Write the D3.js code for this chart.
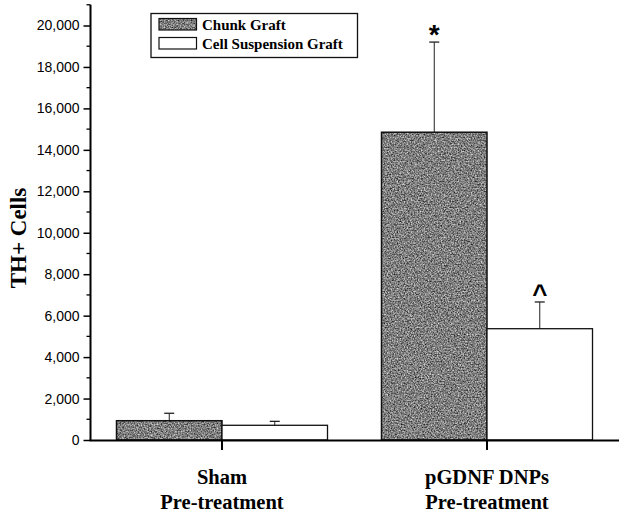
<!DOCTYPE html>
<html><head><meta charset="utf-8">
<script src="https://cdn.jsdelivr.net/npm/d3@7"></script>
<style>body{margin:0;background:#fff}</style>
</head><body>
<script>
const categories = ["Sham|Pre-treatment", "pGDNF DNPs|Pre-treatment"];
const seriesNames = ["Chunk Graft", "Cell Suspension Graft"];
const chunkValues = [930, 14850];
const chunkErrors = [1290, 19200];
const cellValues = [710, 5370];
const cellErrors = [900, 6660];
const chunkMarkers = ["", "*"];
const cellMarkers = ["", "^"];
const yTicks = [0, 2000, 4000, 6000, 8000, 10000, 12000, 14000, 16000, 18000, 20000];

const W = 624, H = 514;
const svg = d3.select("body").append("svg").attr("width", W).attr("height", H);

const defs = svg.append("defs");
const f = defs.append("filter").attr("id", "grain").attr("x", 0).attr("y", 0).attr("width", 1).attr("height", 1)
  .attr("color-interpolation-filters", "sRGB");
f.append("feTurbulence").attr("type", "fractalNoise").attr("baseFrequency", 0.7).attr("numOctaves", 3).attr("seed", 7).attr("result", "n");
f.append("feColorMatrix").attr("in", "n").attr("type", "matrix")
  .attr("values", "1.05 0 0 0 -0.03  1.05 0 0 0 -0.03  1.05 0 0 0 -0.03  0 0 0 0 1").attr("result", "g");
f.append("feComposite").attr("in", "g").attr("in2", "SourceGraphic").attr("operator", "in");

const y = d3.scaleLinear().domain([0, 20000]).range([440, 25.5]);
const xc = d3.scalePoint().domain(categories).range([222, 487]);
const barW = 105.5;

const g = svg.append("g");
const data = categories.map((c, i) => ({c, chunk: chunkValues[i], chunkE: chunkErrors[i], cell: cellValues[i], cellE: cellErrors[i], m1: chunkMarkers[i], m2: cellMarkers[i]}));

// error bars
data.forEach(d => {
  const cx1 = xc(d.c) - barW / 2, cx2 = xc(d.c) + barW / 2;
  [[cx1, d.chunk, d.chunkE], [cx2, d.cell, d.cellE]].forEach(([cx, v, e]) => {
    g.append("line").attr("x1", cx).attr("x2", cx).attr("y1", y(v)).attr("y2", y(e)).attr("stroke", "#222").attr("stroke-width", 1);
    g.append("line").attr("x1", cx - 5).attr("x2", cx + 5).attr("y1", y(e)).attr("y2", y(e)).attr("stroke", "#222").attr("stroke-width", 1.3);
  });
});

data.forEach(d => {
  g.append("rect").attr("x", xc(d.c) - barW).attr("y", y(d.chunk)).attr("width", barW).attr("height", y(0) - y(d.chunk))
    .attr("fill", "#888").attr("filter", "url(#grain)");
  g.append("rect").attr("x", xc(d.c) - barW).attr("y", y(d.chunk)).attr("width", barW).attr("height", y(0) - y(d.chunk))
    .attr("fill", "none").attr("stroke", "#111").attr("stroke-width", 1.5);
  g.append("rect").attr("x", xc(d.c)).attr("y", y(d.cell)).attr("width", barW).attr("height", y(0) - y(d.cell))
    .attr("fill", "#fff").attr("stroke", "#111").attr("stroke-width", 1.3);
});

// markers
data.forEach(d => {
  if (d.m1) g.append("text").attr("x", xc(d.c) - barW / 2).attr("y", y(d.chunkE) + 2).attr("text-anchor", "middle")
    .attr("font-family", "Liberation Sans, Arial, sans-serif").attr("font-weight", "bold").attr("font-size", 28).attr("fill", "#000").text(d.m1);
  if (d.m2) g.append("text").attr("x", xc(d.c) + barW / 2).attr("y", y(d.cellE) + 1).attr("text-anchor", "middle")
    .attr("font-family", "Liberation Sans, Arial, sans-serif").attr("font-weight", "bold").attr("font-size", 26).attr("fill", "#000").text(d.m2);
});

// y axis
const yAxis = d3.axisLeft(y).tickValues(yTicks).tickSize(7).tickPadding(4).tickFormat(d3.format(","));
const ya = svg.append("g").attr("transform", "translate(90.5,0)").call(yAxis);
ya.select(".domain").remove();
ya.selectAll("line").attr("stroke", "#000").attr("stroke-width", 1.5);
ya.selectAll("text").attr("font-family", "Liberation Sans, Arial, sans-serif").attr("font-size", 14).attr("fill", "#000");
const minor = d3.range(1000, 21001, 2000);
svg.append("g").selectAll("line").data(minor).join("line")
  .attr("x1", 86.5).attr("x2", 90.5).attr("y1", d => y(d)).attr("y2", d => y(d)).attr("stroke", "#000").attr("stroke-width", 1.3);
svg.append("line").attr("x1", 90.5).attr("x2", 90.5).attr("y1", y(21000)).attr("y2", y(0) + 1).attr("stroke", "#000").attr("stroke-width", 2);

// x axis
svg.append("line").attr("x1", 89.5).attr("x2", 619).attr("y1", y(0) + 0.5).attr("y2", y(0) + 0.5).attr("stroke", "#000").attr("stroke-width", 2);
svg.append("g").selectAll("line").data(categories).join("line")
  .attr("x1", d => xc(d)).attr("x2", d => xc(d)).attr("y1", y(0)).attr("y2", y(0) + 10).attr("stroke", "#000").attr("stroke-width", 2);

// category labels
categories.forEach(c => {
  c.split("|").forEach((t, j) => {
    svg.append("text").attr("x", xc(c)).attr("y", 484 + j * 25).attr("text-anchor", "middle")
      .attr("font-family", "Liberation Serif, Times New Roman, serif").attr("font-weight", "bold")
      .attr("font-size", 20.5).attr("fill", "#000").text(t);
  });
});

// y title
svg.append("text").attr("transform", "translate(26,238) rotate(-90)").attr("text-anchor", "middle")
  .attr("font-family", "Liberation Serif, Times New Roman, serif").attr("font-weight", "bold")
  .attr("font-size", 23).attr("fill", "#000").text("TH+ Cells");

// legend
const lg = svg.append("g");
lg.append("rect").attr("x", 151).attr("y", 13.5).attr("width", 206.5).attr("height", 44).attr("fill", "#fff").attr("stroke", "#111").attr("stroke-width", 1.3);
const fills = ["#888", "#fff"];
seriesNames.forEach((s, i) => {
  const yy = 18.5 + i * 19;
  lg.append("rect").attr("x", 159).attr("y", yy).attr("width", 37.5).attr("height", 11.5)
    .attr("fill", fills[i]).attr("filter", i === 0 ? "url(#grain)" : null);
  lg.append("rect").attr("x", 159).attr("y", yy).attr("width", 37.5).attr("height", 11.5)
    .attr("fill", "none").attr("stroke", "#111").attr("stroke-width", 1.2);
  lg.append("text").attr("x", 202).attr("y", yy + 11).attr("font-family", "Liberation Serif, Times New Roman, serif")
    .attr("font-weight", "bold").attr("font-size", 15).attr("fill", "#000").text(s);
});
</script>
</body></html>
